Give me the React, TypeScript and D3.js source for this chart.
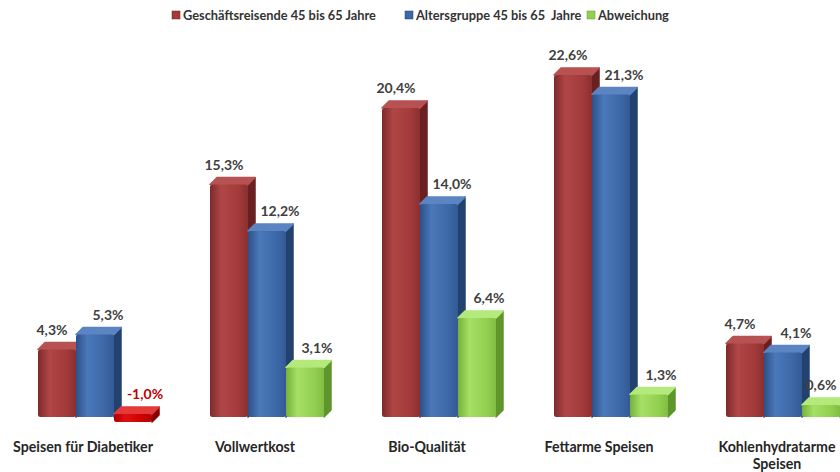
import React from "react";
import * as d3 from "d3";

const categories = [
  ["Speisen für Diabetiker"],
  ["Vollwertkost"],
  ["Bio-Qualität"],
  ["Fettarme Speisen"],
  ["Kohlenhydratarme", "Speisen"],
];
const seriesNames = [
  "Geschäftsreisende 45 bis 65 Jahre",
  "Altersgruppe 45 bis 65  Jahre",
  "Abweichung",
];
const geschaeftsreisende = [4.3, 15.3, 20.4, 22.6, 4.7];
const altersgruppe = [5.3, 12.2, 14.0, 21.3, 4.1];
const abweichung = [-1.0, 3.1, 6.4, 1.3, 0.6];
const seriesValues = [geschaeftsreisende, altersgruppe, abweichung];

const W = 840;
const H = 472;
const FONT = "Lato, 'Open Sans', sans-serif";

const palettes = [
  { front: ["#7e2a2a", "#b04646", "#a33b3b", "#8a2f2f"], side: "#6a2020", top: "#b85252" },
  { front: ["#2c5189", "#4a78b9", "#3d68a8", "#325a94"], side: "#23416f", top: "#5b85c2" },
  { front: ["#74b23a", "#a6e066", "#92d050", "#80bd42"], side: "#5f962c", top: "#b4ea7c" },
];
const negPalette = { front: ["#a80000", "#e01010", "#cc0000", "#b00000"], side: "#8a0000", top: "#e43a3a" };
const labelDx = [-5, 13, 12];

function fmt(v: number) {
  return (v < 0 ? "-" : "") + Math.abs(v).toFixed(1).replace(".", ",") + "%";
}

export default function App() {
  const catIdx = categories.map((_, i) => String(i));
  const x0 = d3.scaleBand<string>().domain(catIdx).range([38, 38 + 172 * categories.length]).padding(0);
  const x1 = d3.scaleBand<string>().domain(["0", "1", "2"]).range([0, 114]).padding(0);
  const y = d3.scaleLinear().domain([0, 22.6]).range([414, 75]);
  const depth = 7;
  const bw = x1.bandwidth();

  const legendX = [172, 405, 587];

  return (
    <svg width={W} height={H} style={{ position: "absolute", left: 0, top: 0, background: "#fff" }} fontFamily={FONT}>
      <defs>
        {[...palettes, negPalette].map((p, i) => (
          <linearGradient key={i} id={`g${i}`} x1="0" x2="1" y1="0" y2="0">
            <stop offset="0" stopColor={p.front[0]} />
            <stop offset="0.3" stopColor={p.front[1]} />
            <stop offset="0.75" stopColor={p.front[2]} />
            <stop offset="1" stopColor={p.front[3]} />
          </linearGradient>
        ))}
      </defs>
      {/* legend */}
      {seriesNames.map((s, i) => (
        <g key={s}>
          <rect x={legendX[i]} y={11} width={8} height={8} fill={palettes[i].front[2]} stroke={palettes[i].side} strokeWidth={0.5} />
          <text x={legendX[i] + 11} y={19.5} fontSize={12.8} fontWeight="bold" fill="#333" style={{ whiteSpace: "pre" }}>
            {s}
          </text>
        </g>
      ))}
      {categories.map((cat, ci) => {
        const gx = x0(String(ci))!;
        return (
          <g key={ci}>
            {seriesValues.map((vals, si) => {
              const v = vals[ci];
              const neg = v < 0;
              const p = neg ? negPalette : palettes[si];
              const gid = neg ? 3 : si;
              const bx = gx + x1(String(si))!;
              const yt = neg ? y(0) : y(v);
              const yb = neg ? y(v) - 7 : y(0) + 3;
              const top = `M${bx},${yt} L${bx + depth},${yt - depth} L${bx + bw + depth},${yt - depth} L${bx + bw},${yt} Z`;
              const side = `M${bx + bw},${yt} L${bx + bw + depth},${yt - depth} L${bx + bw + depth},${yb - depth} L${bx + bw},${yb} Z`;
              const ly = yt - depth - 8;
              const lx = Math.min(bx + bw / 2 + labelDx[si], W - 19);
              return (
                <g key={si}>
                  <path d={side} fill={p.side} stroke={p.side} strokeWidth={1.5} strokeLinejoin="round" />
                  <path d={top} fill={p.top} stroke={p.top} strokeWidth={1.5} strokeLinejoin="round" />
                  <rect x={bx} y={yt} width={bw} height={yb - yt} rx={2.5} fill={`url(#g${gid})`} />
                  <text
                    x={lx}
                    y={ly}
                    textAnchor="middle"
                    fontSize={14}
                    fontWeight="bold"
                    fill={neg ? "#c00000" : "#404040"}
                  >
                    {fmt(v)}
                  </text>
                </g>
              );
            })}
            {cat.map((line, li) => (
              <text
                key={li}
                x={gx + (cat.length > 1 ? 51 : 45)}
                y={452 + li * 17}
                textAnchor="middle"
                fontSize={14.2}
                fontWeight="bold"
                fill="#262626"
              >
                {line}
              </text>
            ))}
          </g>
        );
      })}
    </svg>
  );
}
